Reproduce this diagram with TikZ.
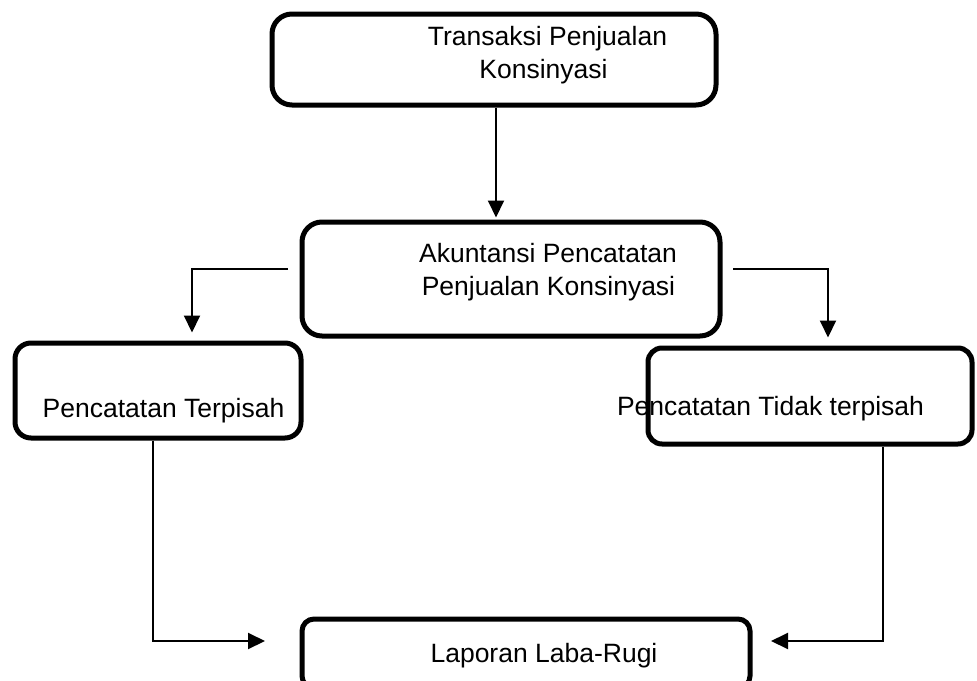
\documentclass[tikz,border=0pt]{standalone}
\usepackage{fontspec}
\setmainfont{Liberation Sans}
\usetikzlibrary{arrows.meta}

\begin{document}
\begin{tikzpicture}[x=1pt, y=-1pt,
  box/.style={draw, line width=5pt, rectangle, inner sep=0pt, rounded corners=#1},
  box/.default=18pt,
  label/.style={anchor=base, inner sep=0pt, font=\fontsize{26.5}{33}\selectfont},
  conn/.style={line width=2pt},
  arr/.style={conn, -{Triangle[length=17pt, width=16pt]}}
]
\clip (0,0) rectangle (977,680);

% boxes
\node[box=20pt, minimum width=444pt, minimum height=91pt]  (trans) at (494,59.5) {};
\node[box=20pt, minimum width=418pt, minimum height=114pt] (akun)  at (511,279) {};
\node[box=16pt, minimum width=286pt, minimum height=95pt]  (pisah) at (158,390.5) {};
\node[box=14pt, minimum width=324pt, minimum height=96pt]  (tidak) at (810,396) {};
\node[box=12pt, minimum width=448pt, minimum height=69pt]  (lapor) at (526,653.5) {};

% texts
\node[label] (t1a) at (547.5,45)  {Transaksi Penjualan};
\node[label] (t1b) at (543.5,78)  {Konsinyasi};
\node[label] (t2a) at (548,262)   {Akuntansi Pencatatan};
\node[label] (t2b) at (548.5,295) {Penjualan Konsinyasi};
\node[label] (t3)  at (163.5,417) {Pencatatan Terpisah};
\node[label] (t4)  at (770.5,415) {Pencatatan Tidak terpisah};
\node[label] (t5)  at (544,662)   {Laporan Laba-Rugi};

% connector helpers
\coordinate (lstart) at (288,269);
\coordinate (lcol)   at (192,0);
\coordinate (rstart) at (733,269);
\coordinate (rcol)   at (828,0);
\coordinate (bl)     at (153,0);
\coordinate (br)     at (883,0);
\coordinate (ltip)   at (265,641);
\coordinate (rtip)   at (771,641);

% connectors
\draw[arr, shorten >=2pt] ([xshift=2pt]trans.south) -- ([xshift=2pt]trans.south |- akun.north);
\draw[arr, shorten >=8pt] (lstart) -| (lcol |- pisah.north);
\draw[arr, shorten >=8pt] (rstart) -| (rcol |- tidak.north);
\draw[arr] (bl |- pisah.south) |- (ltip);
\draw[arr] (br |- tidak.south) |- (rtip);
\end{tikzpicture}
\end{document}
